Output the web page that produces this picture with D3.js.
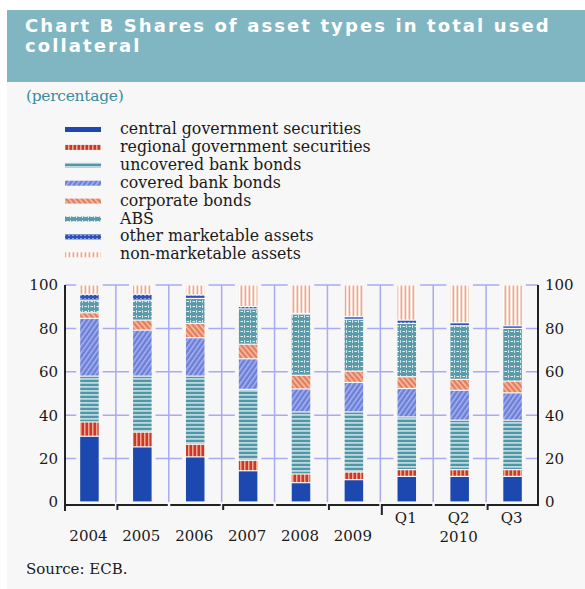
<!DOCTYPE html>
<html>
<head>
<meta charset="utf-8">
<script src="https://cdn.jsdelivr.net/npm/d3@7"></script>
<style>
  html, body { margin: 0; padding: 0; background: #ffffff; }
  svg { display: block; }
</style>
</head>
<body>
<svg id="chart" width="585" height="589"></svg>
<script>
// ---------------- DATA ----------------
const categories = ["2004", "2005", "2006", "2007", "2008", "2009", "Q1", "Q2", "Q3"];
const seriesNames = [
  "central government securities",
  "regional government securities",
  "uncovered bank bonds",
  "covered bank bonds",
  "corporate bonds",
  "ABS",
  "other marketable assets",
  "non-marketable assets"
];
const centralGov    = [30.3, 25.4, 20.8, 14.4,  8.9, 10.3, 11.8, 11.8, 11.8];
const regionalGov   = [ 6.6,  6.8,  5.8,  4.8,  4.0,  3.5,  3.1,  3.1,  3.1];
const uncoveredBank = [21.1, 25.8, 31.4, 32.7, 28.6, 27.7, 24.3, 22.8, 22.8];
const coveredBank   = [26.6, 21.2, 17.7, 14.1, 10.6, 13.6, 13.1, 13.8, 12.6];
const corporate     = [ 2.6,  4.6,  6.6,  6.7,  6.3,  5.2,  5.4,  5.0,  5.4];
const abs           = [ 5.8,  9.2, 11.5, 16.3, 28.2, 23.9, 24.6, 24.7, 24.3];
const otherMarket   = [ 2.7,  2.7,  1.6,  1.1,  0.3,  1.2,  1.5,  1.4,  1.2];
const nonMarket     = [ 4.3,  4.3,  4.6,  9.9, 13.1, 14.6, 16.2, 17.4, 18.8];
const yTicks = [0, 20, 40, 60, 80, 100];
const yearLabel2010 = "2010";
const title = ["Chart B Shares of asset types in total used", "collateral"];
const unitLabel = "(percentage)";
const sourceLabel = "Source: ECB.";

// ---------------- SETUP ----------------
const svg = d3.select("#chart");
const serif = "'DejaVu Serif', serif";
const BG = "#f7f7f7";

svg.append("rect").attr("x", 7).attr("y", 82).attr("width", 578).attr("height", 507).attr("fill", BG);
svg.append("rect").attr("x", 7).attr("y", 10).attr("width", 578).attr("height", 72).attr("fill", "#80b6c2");

title.forEach((t, i) => {
  svg.append("text").attr("x", 25).attr("y", 32 + i * 20)
    .attr("fill", "#ffffff").attr("font-family", "'DejaVu Sans', sans-serif")
    .attr("font-weight", "bold").attr("font-size", 18).attr("letter-spacing", 2.1)
    .text(t);
});
svg.append("text").attr("x", 26).attr("y", 101).attr("fill", "#3b8ca0")
  .attr("font-family", serif).attr("font-size", 15.5).attr("letter-spacing", -0.3).text(unitLabel);

// ---------------- PATTERNS ----------------
const defs = svg.append("defs");
function pat(id, w, h, draw, transform) {
  const p = defs.append("pattern").attr("id", id).attr("patternUnits", "userSpaceOnUse")
    .attr("width", w).attr("height", h);
  if (transform) p.attr("patternTransform", transform);
  draw(p);
}
pat("p0", 4, 4, p => p.append("rect").attr("width", 4).attr("height", 4).attr("fill", "#1c48b0"));
pat("p1", 4, 4, p => {
  p.append("rect").attr("width", 4).attr("height", 4).attr("fill", "#c8382c");
  p.append("rect").attr("x", 0).attr("width", 1.5).attr("height", 4).attr("fill", "#f2a88c");
});
pat("p2", 4, 4, p => {
  p.append("rect").attr("width", 4).attr("height", 4).attr("fill", "#4f97a6");
  p.append("rect").attr("y", 2).attr("width", 4).attr("height", 1.8).attr("fill", "#bcd9df");
});
pat("p3", 4, 4, p => {
  p.append("rect").attr("width", 4).attr("height", 4).attr("fill", "#6c7fd8");
  p.append("rect").attr("width", 1.5).attr("height", 4).attr("fill", "#a9b5ee");
}, "rotate(35)");
pat("p4", 4, 4, p => {
  p.append("rect").attr("width", 4).attr("height", 4).attr("fill", "#e27d5e");
  p.append("rect").attr("width", 1.6).attr("height", 4).attr("fill", "#f6c0a8");
}, "rotate(-40)");
pat("p5", 6, 5, p => {
  p.append("rect").attr("width", 6).attr("height", 5).attr("fill", "#5b9aa8");
  p.append("rect").attr("x", 0.5).attr("y", 1).attr("width", 2.5).attr("height", 1).attr("fill", "#e6f1f3");
  p.append("rect").attr("x", 4).attr("y", 0).attr("width", 1).attr("height", 3).attr("fill", "#cfe3e7");
});
pat("p6", 4, 3, p => {
  p.append("rect").attr("width", 4).attr("height", 3).attr("fill", "#2f52b8");
  p.append("rect").attr("x", 0).attr("y", 1).attr("width", 2).attr("height", 1).attr("fill", "#8aa0e0");
});
pat("p7", 4, 4, p => {
  p.append("rect").attr("width", 4).attr("height", 4).attr("fill", "#ffffff");
  p.append("rect").attr("x", 0.5).attr("width", 1.8).attr("height", 4).attr("fill", "#eca78c");
});

// ---------------- LEGEND ----------------
seriesNames.forEach((name, i) => {
  const yb = 134 + i * 17.9;
  svg.append("rect").attr("x", 65).attr("y", yb - 7).attr("width", 36).attr("height", 5)
    .attr("fill", `url(#p${i})`);
  svg.append("text").attr("x", 120).attr("y", yb).attr("fill", "#1a1a1a")
    .attr("font-family", serif).attr("font-size", 15.8).attr("letter-spacing", 0).text(name);
});

// ---------------- SCALES ----------------
const x = d3.scaleBand().domain(categories).range([63, 539]).padding(0);
const y = d3.scaleLinear().domain([0, 100]).range([502, 285]);
const barW = x.bandwidth() * 0.35;

const seriesArrays = [centralGov, regionalGov, uncoveredBank, coveredBank, corporate, abs, otherMarket, nonMarket];
const table = categories.map((c, i) => {
  const row = { cat: c };
  seriesNames.forEach((s, j) => row[s] = seriesArrays[j][i]);
  return row;
});
const stacked = d3.stack().keys(seriesNames)(table);

// ---------------- GRID ----------------
const grid = svg.append("g").attr("stroke", "#aaaaf2").attr("stroke-width", 1.5);
yTicks.filter(v => v > 0).forEach(v => {
  grid.append("line").attr("x1", x.range()[0] + 2).attr("x2", x.range()[1] - 1)
    .attr("y1", y(v)).attr("y2", y(v));
});
categories.slice(1).forEach(c => {
  grid.append("line").attr("x1", x(c)).attr("x2", x(c)).attr("y1", y(100)).attr("y2", y(0));
});

svg.append("g").selectAll("rect").data(categories).join("rect")
  .attr("x", d => x(d) + x.bandwidth() / 2 - barW / 2 - 4)
  .attr("width", barW + 8)
  .attr("y", y(100) - 1).attr("height", y(0) - y(100) + 1)
  .attr("fill", BG);

// ---------------- BARS ----------------
svg.append("g").selectAll("g").data(stacked).join("g")
  .attr("fill", (d, i) => `url(#p${i})`)
  .selectAll("rect").data(d => d.map(v => ({ v, cat: v.data.cat }))).join("rect")
  .attr("x", d => x(d.cat) + x.bandwidth() / 2 - barW / 2)
  .attr("width", barW)
  .attr("y", d => y(d.v[1]) + 0.6)
  .attr("height", d => Math.max(0, y(d.v[0]) - y(d.v[1]) - 1.2));

// ---------------- AXES ----------------
const axisColor = "#222222";
const axisY = 505;
svg.append("line").attr("x1", 65).attr("x2", 65).attr("y1", y(100)).attr("y2", 511)
  .attr("stroke", axisColor).attr("stroke-width", 2);
svg.append("line").attr("x1", 538).attr("x2", 538).attr("y1", y(100)).attr("y2", axisY + 1)
  .attr("stroke", axisColor).attr("stroke-width", 2);

const leftAxis = svg.append("g").attr("transform", "translate(58,0)")
  .call(d3.axisLeft(y).tickValues(yTicks).tickSize(0).tickPadding(0).tickFormat(d3.format("d")));
const rightAxis = svg.append("g").attr("transform", "translate(545,0)")
  .call(d3.axisRight(y).tickValues(yTicks).tickSize(0).tickPadding(0).tickFormat(d3.format("d")));
[leftAxis, rightAxis].forEach(g => {
  g.select(".domain").remove();
  g.selectAll("text").attr("font-family", serif).attr("font-size", 15).attr("fill", "#1a1a1a");
});

const tickIdx = { 1: 9, 3: 9, 5: 9, 6: 14, 8: 9 };
categories.forEach((c, i) => {
  svg.append("line").attr("x1", i === 0 ? 65 : x(c) + 1.5).attr("x2", x(c) + x.bandwidth() - 1)
    .attr("y1", axisY).attr("y2", axisY).attr("stroke", axisColor).attr("stroke-width", 2);
  if (tickIdx[i]) {
    svg.append("line").attr("x1", x(c) + 1.5).attr("x2", x(c) + 1.5)
      .attr("y1", axisY - 1).attr("y2", axisY - 1 + (tickIdx[i] - 3))
      .attr("stroke", axisColor).attr("stroke-width", 2);
  }
});

categories.forEach((c, i) => {
  const isQ = c.startsWith("Q");
  svg.append("text").attr("x", x(c) + x.bandwidth() / 2 - 1)
    .attr("y", isQ ? 523 : 541).attr("text-anchor", "middle")
    .attr("font-family", serif).attr("font-size", 15).attr("fill", "#1a1a1a").text(c);
});
svg.append("text").attr("x", x("Q2") + x.bandwidth() / 2 - 1).attr("y", 542)
  .attr("text-anchor", "middle").attr("font-family", serif).attr("font-size", 15)
  .attr("fill", "#1a1a1a").text(yearLabel2010);

svg.append("text").attr("x", 26).attr("y", 574).attr("font-family", serif)
  .attr("font-size", 15).attr("fill", "#1a1a1a").text(sourceLabel);
</script>
</body>
</html>
